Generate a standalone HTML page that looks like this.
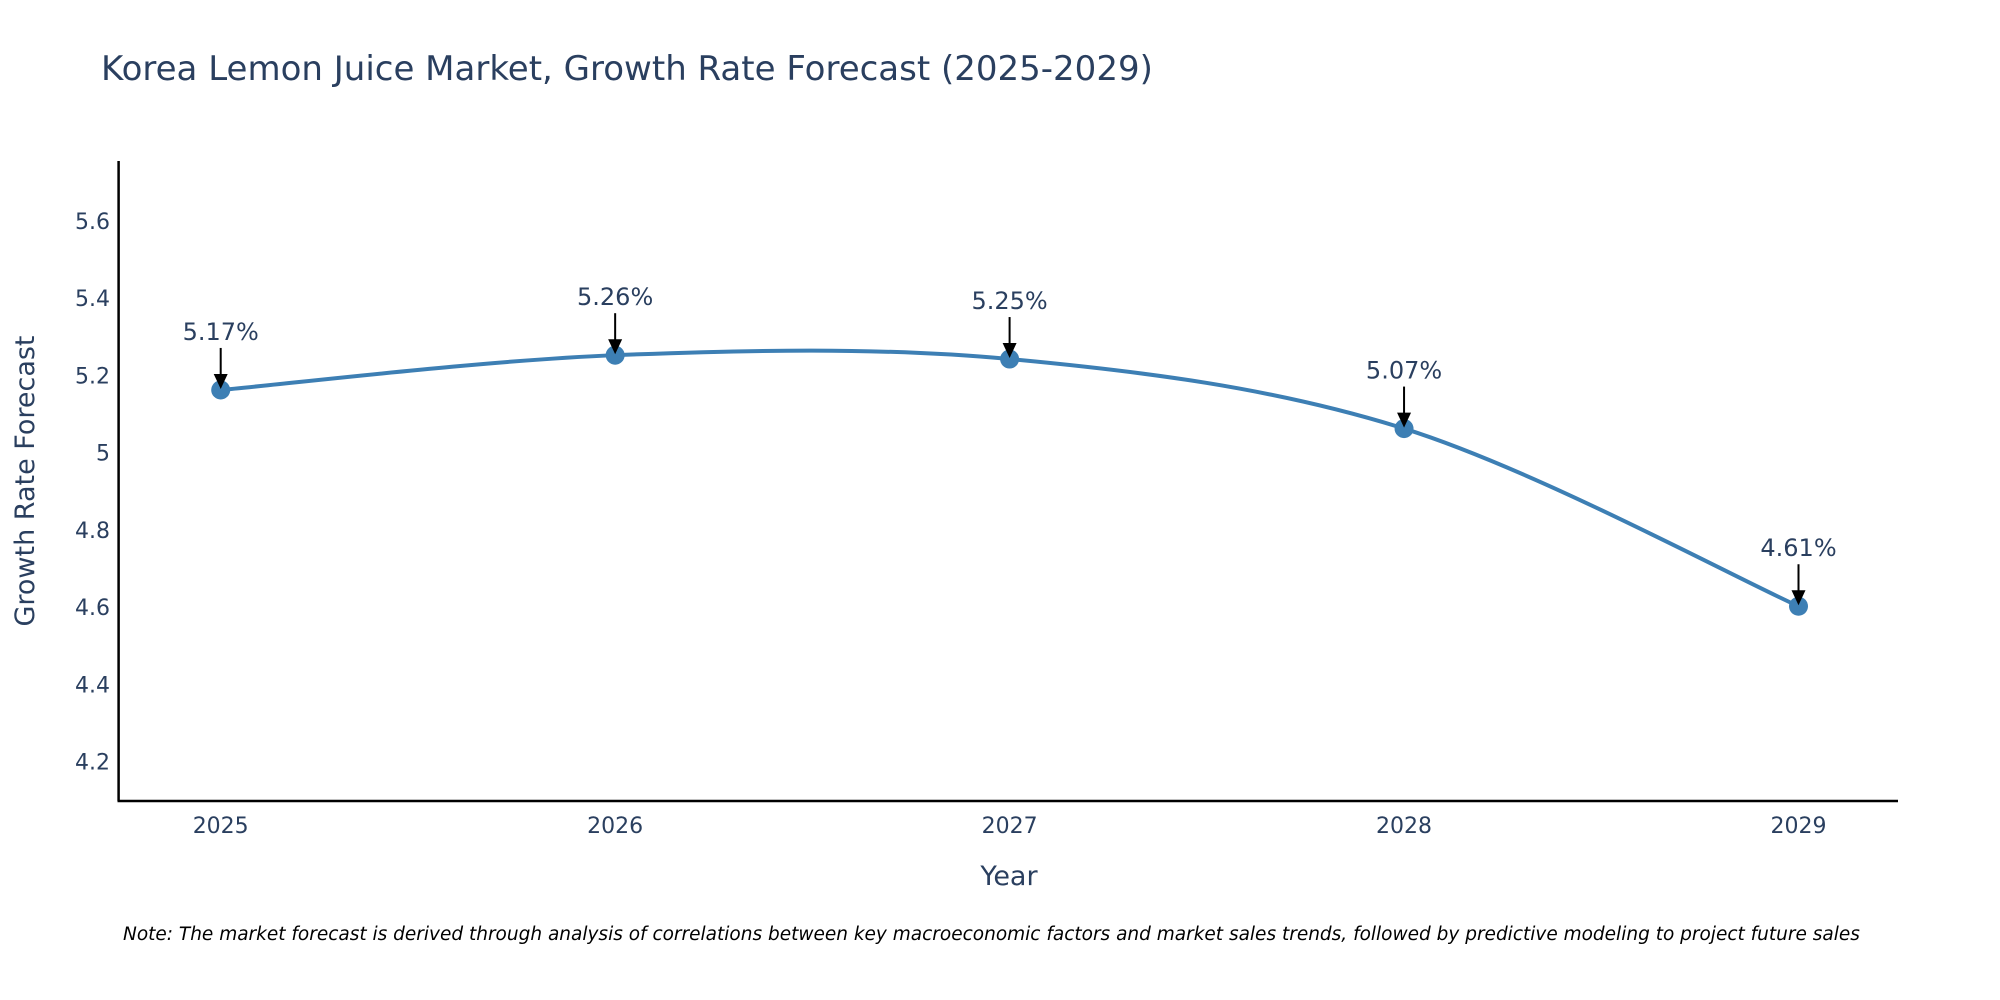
<!DOCTYPE html>
<html><head><meta charset="utf-8"><style>
body{margin:0;background:#fff;}
svg{display:block;font-family:"DejaVu Sans","Liberation Sans",sans-serif;}
</style></head><body>
<svg id="chart" width="2000" height="1000">
<text x="101" y="80" font-size="34" fill="#2a3f5f">Korea Lemon Juice Market, Growth Rate Forecast (2025-2029)</text>
<g id="yticks"></g><g id="xticks"></g>
<path id="line" fill="none" stroke="#3d7fb4" stroke-width="4"/>
<g id="points"></g><g id="ann"></g>
<line x1="118.6" y1="161" x2="118.6" y2="801" stroke="#000" stroke-width="2.5"/>
<line x1="117.5" y1="801" x2="1898" y2="801" stroke="#000" stroke-width="2.5"/>
<text x="1009" y="885" font-size="27" fill="#2a3f5f" text-anchor="middle">Year</text>
<text transform="translate(34,481) rotate(-90)" font-size="27" fill="#2a3f5f" text-anchor="middle">Growth Rate Forecast</text>
<text x="123" y="940" font-size="18.5" font-style="italic" fill="#000">Note: The market forecast is derived through analysis of correlations between key macroeconomic factors and market sales trends, followed by predictive modeling to project future sales</text>
</svg>
<script>
const years=[2025,2026,2027,2028,2029];
const values=[5.17,5.26,5.25,5.07,4.61];
const labels=["5.17%","5.26%","5.25%","5.07%","4.61%"];
const yTicks=[4.2,4.4,4.6,4.8,5,5.2,5.4,5.6];
const NS="http://www.w3.org/2000/svg";
const xs=i=>220.7+(1798.5-220.7)*(years[i]-2025)/4;
const ys=v=>801-(v-4.098)/(5.755-4.098)*640;
function mk(t,a,p){const e=document.createElementNS(NS,t);for(const k in a)e.setAttribute(k,a[k]);p.appendChild(e);return e;}
const yt=document.getElementById('yticks');
yTicks.forEach(v=>{const t=mk('text',{x:110,y:ys(v)+8,'font-size':22,fill:'#2a3f5f','text-anchor':'end'},yt);t.textContent=String(v);

});
const xt=document.getElementById('xticks');
years.forEach((y,i)=>{const t=mk('text',{x:xs(i),y:833,'font-size':22,fill:'#2a3f5f','text-anchor':'middle'},xt);t.textContent=String(y);

});
const P=values.map((v,i)=>[xs(i),ys(v)+3]);
let d=`M${P[0][0]},${P[0][1]}`;
for(let i=0;i<P.length-1;i++){const p0=P[Math.max(0,i-1)],p1=P[i],p2=P[i+1],p3=P[Math.min(P.length-1,i+2)];
const c1=[p1[0]+(p2[0]-p0[0])/6,p1[1]+(p2[1]-p0[1])/6],c2=[p2[0]-(p3[0]-p1[0])/6,p2[1]-(p3[1]-p1[1])/6];
d+=` C${c1[0]},${c1[1]} ${c2[0]},${c2[1]} ${p2[0]},${p2[1]}`;}
document.getElementById('line').setAttribute('d',d);
const pg=document.getElementById('points'),ag=document.getElementById('ann');
P.forEach((p,i)=>{const c=mk('circle',{cx:p[0],cy:p[1],r:9.5,fill:'#3d7fb4'},pg);


const l=mk('line',{x1:p[0],y1:p[1]-42,x2:p[0],y2:p[1]-12,stroke:'#000','stroke-width':2},ag);


const h=mk('path',{d:`M${p[0]-7},${p[1]-16} L${p[0]+7},${p[1]-16} L${p[0]},${p[1]-1} Z`,fill:'#000'},ag);


const t=mk('text',{x:p[0],y:p[1]-50,'font-size':24,fill:'#2a3f5f','text-anchor':'middle'},ag);t.textContent=labels[i];

});
</script>
</body></html>
